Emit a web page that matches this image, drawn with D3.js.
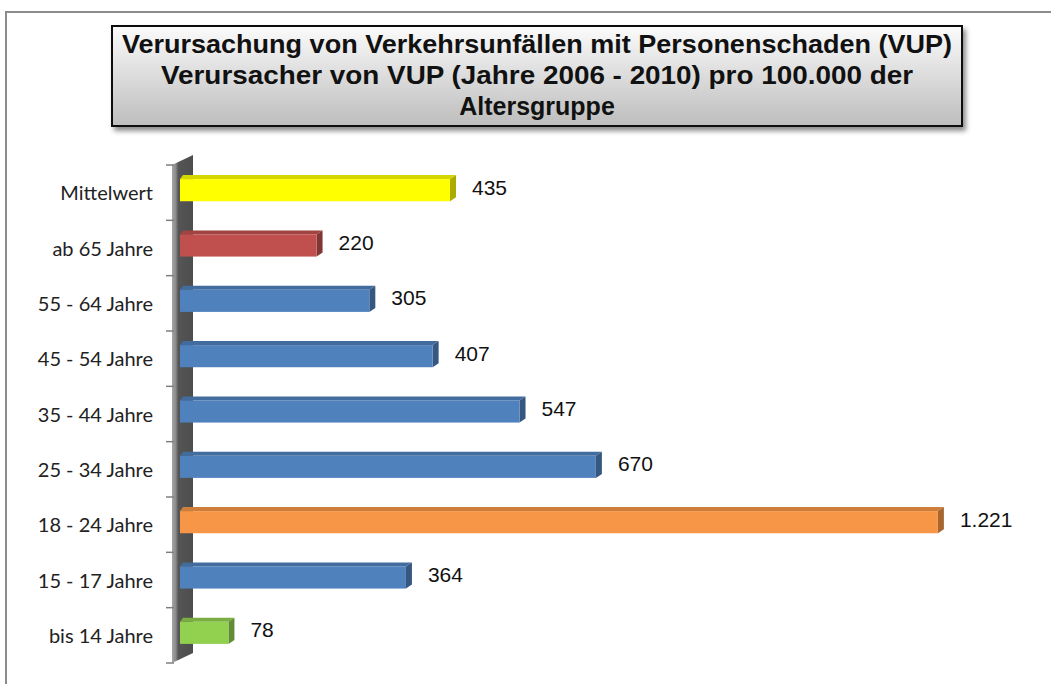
<!DOCTYPE html>
<html>
<head>
<meta charset="utf-8">
<title>VUP</title>
<script src="https://d3js.org/d3.v7.min.js"></script>
<style>
  body { margin: 0; background: #fff; }
</style>
</head>
<body>
<svg id="mainsvg" width="1051" height="684"></svg>
<script>
// ---------- data ----------
const categories = ["Mittelwert", "ab 65 Jahre", "55 - 64 Jahre", "45 - 54 Jahre", "35 - 44 Jahre",
                    "25 - 34 Jahre", "18 - 24 Jahre", "15 - 17 Jahre", "bis 14 Jahre"];
const values = [435, 220, 305, 407, 547, 670, 1221, 364, 78];
const valueLabels = ["435", "220", "305", "407", "547", "670", "1.221", "364", "78"];
const barColors = ["#FFFF00", "#C0504D", "#4F81BD", "#4F81BD", "#4F81BD",
                   "#4F81BD", "#F79646", "#4F81BD", "#92D050"];
const titleLines = ["Verursachung von Verkehrsunfällen mit Personenschaden (VUP)",
                    "Verursacher von VUP (Jahre 2006 - 2010) pro 100.000 der",
                    "Altersgruppe"];
const titleWidths = [830, 752, null];

const svg = d3.select("#mainsvg");
const defs = svg.append("defs");

// outer chart border (only top and left visible)
svg.append("rect").attr("x", 6).attr("y", 12).attr("width", 1100).attr("height", 720)
   .attr("fill", "#fff").attr("stroke", "#8c8c8c").attr("stroke-width", 2);

// ---------- title box ----------
const tg = defs.append("linearGradient").attr("id", "tgrad").attr("x1", 0).attr("y1", 0).attr("x2", 0).attr("y2", 1);
tg.append("stop").attr("offset", "0%").attr("stop-color", "#fbfbfb");
tg.append("stop").attr("offset", "100%").attr("stop-color", "#bdbdbd");
const sh = defs.append("filter").attr("id", "shadow").attr("x", "-5%").attr("y", "-10%").attr("width", "115%").attr("height", "130%");
sh.append("feDropShadow").attr("dx", 3).attr("dy", 4).attr("stdDeviation", 2.5).attr("flood-color", "#000").attr("flood-opacity", 0.45);

svg.append("rect").attr("x", 112).attr("y", 26).attr("width", 850).attr("height", 100)
   .attr("fill", "url(#tgrad)").attr("stroke", "#111").attr("stroke-width", 2)
   .attr("filter", "url(#shadow)");

svg.append("g").selectAll("text").data(titleLines).join("text")
   .attr("x", 537).attr("y", (d, i) => 53 + i * 31)
   .attr("text-anchor", "middle")
   .attr("font-family", "Liberation Sans, Arial, sans-serif")
   .attr("font-weight", "bold").attr("font-size", 25)
   .attr("textLength", (d, i) => titleWidths[i])
   .attr("lengthAdjust", (d, i) => titleWidths[i] ? "spacingAndGlyphs" : null)
   .attr("fill", "#111")
   .text(d => d);

// ---------- scales ----------
const x = d3.scaleLinear().domain([0, 1400]).range([180, 1049]);
const y = d3.scaleBand().domain(categories).range([165, 663]).paddingInner(0.6).paddingOuter(0.3);
const step = y.step();
const dx = 6, dy = 4;

// ---------- wall ----------
const wg = defs.append("linearGradient").attr("id", "wgrad").attr("x1", 0).attr("y1", 0).attr("x2", 1).attr("y2", 0);
wg.append("stop").attr("offset", "0%").attr("stop-color", "#a6a6a6");
wg.append("stop").attr("offset", "18%").attr("stop-color", "#8a8a8a");
wg.append("stop").attr("offset", "30%").attr("stop-color", "#555");
wg.append("stop").attr("offset", "100%").attr("stop-color", "#4d4d4d");
svg.append("path")
   .attr("d", `M172,165 L193,155 L193,653 L172,663 Z`)
   .attr("fill", "url(#wgrad)");

// tick marks at category boundaries
const bounds = d3.range(categories.length + 1).map(i => 165 + i * step);
svg.append("g").selectAll("line").data(bounds).join("line")
   .attr("x1", 166).attr("x2", 174).attr("y1", d => d).attr("y2", d => d)
   .attr("stroke", "#7f7f7f").attr("stroke-width", 1.5);

// ---------- bars ----------
const bars = svg.append("g").selectAll("g").data(values).join("g");
const bw = y.bandwidth();
const yTop = (d, i) => y(categories[i]) - 2.5;

bars.append("path") // top face
   .attr("d", (d, i) => {
     const x0 = x(0), x1 = x(d), t = yTop(d, i);
     return `M${x0},${t} L${x0 + dx * 0.5},${t - dy} L${x1 + dx},${t - dy} L${x1},${t} Z`;
   })
   .attr("fill", (d, i) => d3.color(barColors[i]).darker(0.5));

bars.append("path") // side face
   .attr("d", (d, i) => {
     const x1 = x(d), t = yTop(d, i);
     return `M${x1},${t} L${x1 + dx},${t - dy} L${x1 + dx},${t + bw - dy} L${x1},${t + bw} Z`;
   })
   .attr("fill", (d, i) => d3.color(barColors[i]).darker(1.1));

bars.append("rect") // front face
   .attr("x", x(0)).attr("y", (d, i) => yTop(d, i))
   .attr("width", d => x(d) - x(0)).attr("height", bw)
   .attr("fill", (d, i) => barColors[i]);

// value labels
bars.append("text")
   .attr("x", d => x(d) + dx + 16)
   .attr("y", (d, i) => yTop(d, i) + 15.5)
   .attr("font-family", "Liberation Sans, Arial, sans-serif")
   .attr("font-size", 21).attr("fill", "#111")
   .text((d, i) => valueLabels[i]);

// category labels
svg.append("g").selectAll("text").data(categories).join("text")
   .attr("x", 153)
   .attr("y", d => y(d) + bw / 2 + 7.5)
   .attr("text-anchor", "end")
   .attr("font-family", "Lato, Open Sans, sans-serif")
   .attr("font-size", 20).attr("fill", "#222")
   .text(d => d);
</script>
</body>
</html>
